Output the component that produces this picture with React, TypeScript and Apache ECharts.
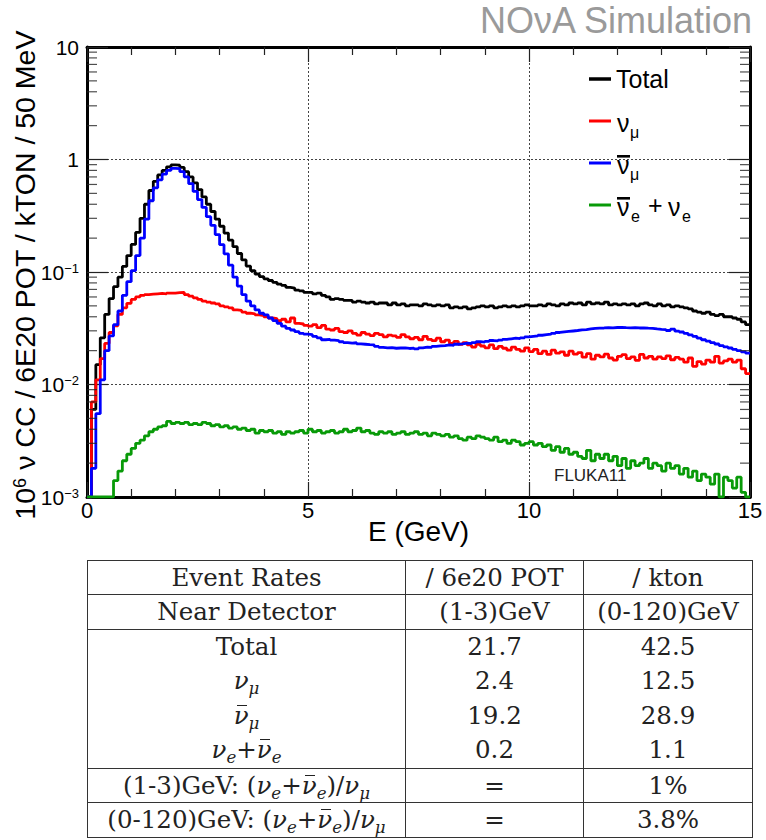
import React, { useEffect, useRef } from "react";
import * as echarts from "echarts";

// ---------------- data ----------------
const BIN_WIDTH = 0.1; // GeV (lower bin edges 0.0 ... 14.9)
const E_MIN = 0;
const E_MAX = 15;
const Y_MIN = 0.001;
const Y_MAX = 10;

const totalValues = [
  0.001, 0.006, 0.015, 0.026, 0.042, 0.058, 0.074, 0.09, 0.112, 0.14,
  0.176, 0.225, 0.3, 0.4, 0.53, 0.64, 0.73, 0.8, 0.86, 0.895,
  0.89, 0.85, 0.78, 0.7, 0.62, 0.54, 0.465, 0.4, 0.345, 0.295,
  0.255, 0.222, 0.192, 0.168, 0.146, 0.128, 0.113, 0.103, 0.096, 0.091,
  0.087, 0.084, 0.081, 0.078, 0.076, 0.073, 0.072, 0.069, 0.068, 0.066,
  0.066, 0.064, 0.065, 0.062, 0.06, 0.057, 0.058, 0.057, 0.056, 0.056,
  0.054, 0.055, 0.054, 0.053, 0.054, 0.052, 0.053, 0.053, 0.051, 0.053,
  0.051, 0.052, 0.05, 0.051, 0.051, 0.05, 0.052, 0.051, 0.05, 0.051,
  0.05, 0.051, 0.048, 0.049, 0.048, 0.049, 0.047, 0.048, 0.049, 0.05,
  0.049, 0.05, 0.048, 0.049, 0.05, 0.049, 0.05, 0.049, 0.05, 0.051,
  0.05, 0.05, 0.051, 0.05, 0.052, 0.051, 0.05, 0.052, 0.051, 0.053,
  0.052, 0.053, 0.051, 0.054, 0.052, 0.053, 0.052, 0.054, 0.051, 0.052,
  0.051, 0.052, 0.051, 0.052, 0.05, 0.052, 0.053, 0.051, 0.05, 0.052,
  0.05, 0.051, 0.049, 0.05, 0.049, 0.048, 0.047, 0.045, 0.044, 0.043,
  0.044, 0.042, 0.041, 0.042, 0.04, 0.04, 0.039, 0.038, 0.036, 0.034,
];

const numuValues = [
  0.001, 0.007, 0.011, 0.017, 0.0232, 0.029, 0.0333, 0.042, 0.048, 0.0527,
  0.057, 0.06, 0.062, 0.063, 0.0635, 0.064, 0.0645, 0.064, 0.065, 0.065,
  0.0655, 0.066, 0.063, 0.061, 0.059, 0.057, 0.055, 0.054, 0.053, 0.052,
  0.05, 0.049, 0.048, 0.046, 0.0455, 0.044, 0.043, 0.0425, 0.0415, 0.041,
  0.04, 0.039, 0.0385, 0.037, 0.038, 0.036, 0.039, 0.035, 0.0345, 0.0335,
  0.033, 0.034, 0.032, 0.0335, 0.031, 0.0305, 0.0315, 0.0295, 0.029, 0.03,
  0.0285, 0.0275, 0.029, 0.028, 0.0272, 0.0285, 0.0278, 0.0265, 0.0275, 0.027,
  0.0262, 0.0278, 0.0265, 0.0255, 0.0262, 0.025, 0.0268, 0.0252, 0.0245, 0.0258,
  0.024, 0.0248, 0.0232, 0.0242, 0.0228, 0.0235, 0.0225, 0.0215, 0.0228, 0.022,
  0.0212, 0.0225, 0.0208, 0.0218, 0.021, 0.0202, 0.0215, 0.0205, 0.0198, 0.0212,
  0.0196, 0.0205, 0.0188, 0.0198, 0.0185, 0.0202, 0.019, 0.0195, 0.0182, 0.0198,
  0.0186, 0.0192, 0.0175, 0.0188, 0.0168, 0.0182, 0.0176, 0.0186, 0.0172, 0.0165,
  0.0178, 0.0184, 0.017, 0.0176, 0.0164, 0.0185, 0.0172, 0.0178, 0.0168, 0.0176,
  0.017, 0.018, 0.0166, 0.0174, 0.0168, 0.0158, 0.0172, 0.0145, 0.016, 0.0152,
  0.0165, 0.0158, 0.0178, 0.0155, 0.0162, 0.0168, 0.0158, 0.0165, 0.0138, 0.0125,
];

const numubarValues = [
  0.001, 0.0018, 0.0055, 0.011, 0.02, 0.027, 0.034, 0.045, 0.062, 0.082,
  0.103, 0.14, 0.2, 0.295, 0.43, 0.56, 0.66, 0.74, 0.8, 0.835,
  0.83, 0.78, 0.7, 0.61, 0.52, 0.44, 0.375, 0.31, 0.26, 0.215,
  0.175, 0.145, 0.115, 0.09, 0.075, 0.063, 0.055, 0.05, 0.046, 0.043,
  0.0415, 0.039, 0.037, 0.035, 0.033, 0.0315, 0.0305, 0.0295, 0.0285, 0.028,
  0.0277, 0.0268, 0.026, 0.025, 0.0252, 0.0248, 0.0245, 0.024, 0.0236, 0.0233,
  0.0235, 0.023, 0.0228, 0.0226, 0.0225, 0.0218, 0.0214, 0.0212, 0.0213, 0.021,
  0.0211, 0.0212, 0.0209, 0.0211, 0.0207, 0.0212, 0.0215, 0.0214, 0.0218, 0.022,
  0.0222, 0.0225, 0.0223, 0.0228, 0.023, 0.0233, 0.0231, 0.0236, 0.024, 0.0238,
  0.0242, 0.0246, 0.0244, 0.0248, 0.0252, 0.0255, 0.0258, 0.0256, 0.026, 0.0265,
  0.0268, 0.027, 0.0274, 0.0277, 0.028, 0.0285, 0.029, 0.0293, 0.0296, 0.0299,
  0.0302, 0.0306, 0.0308, 0.0312, 0.0315, 0.0317, 0.0318, 0.032, 0.0319, 0.0321,
  0.0322, 0.032, 0.0319, 0.032, 0.0318, 0.0319, 0.0317, 0.0316, 0.0312, 0.0309,
  0.0307, 0.0302, 0.031, 0.0298, 0.0293, 0.0285, 0.0276, 0.0268, 0.0258, 0.025,
  0.0243, 0.0236, 0.0229, 0.0222, 0.0216, 0.0211, 0.0205, 0.02, 0.0195, 0.019,
];

const nueValues = [
  0.001, 0.001, 0.001, 0.001, 0.001, 0.001, 0.0014, 0.0017, 0.0021, 0.0024,
  0.0027, 0.003, 0.0032, 0.0035, 0.0038, 0.004, 0.0042, 0.0043, 0.0047, 0.0045,
  0.0046, 0.0045, 0.0046, 0.0044, 0.0045, 0.0044, 0.0046, 0.0045, 0.0043, 0.0044,
  0.0042, 0.0043, 0.0041, 0.0042, 0.004, 0.0041, 0.0039, 0.004, 0.0037, 0.0039,
  0.0038, 0.0039, 0.0037, 0.0038, 0.0036, 0.0038, 0.0037, 0.0038, 0.0039, 0.0037,
  0.004, 0.0038, 0.0039, 0.0037, 0.0038, 0.0039, 0.0037, 0.0038, 0.004, 0.0038,
  0.0039, 0.0041, 0.0038, 0.0039, 0.0037, 0.0036, 0.0038, 0.0037, 0.0038, 0.0036,
  0.0037, 0.0038, 0.0036, 0.0037, 0.0038, 0.0036, 0.0037, 0.0035, 0.0037, 0.0036,
  0.0035, 0.0036, 0.0034, 0.0035, 0.0033, 0.0032, 0.0034, 0.0033, 0.0035, 0.0034,
  0.0033, 0.0032, 0.0034, 0.0031, 0.0032, 0.003, 0.0032, 0.0031, 0.0029, 0.003,
  0.0031, 0.0029, 0.003, 0.0028, 0.0029, 0.0026, 0.0028, 0.0025, 0.0027, 0.0024,
  0.0025, 0.0023, 0.0022, 0.0026, 0.0021, 0.0024, 0.0022, 0.0024, 0.0021, 0.0023,
  0.0019, 0.0022, 0.0018, 0.0021, 0.0019, 0.002, 0.0022, 0.0018, 0.002, 0.0019,
  0.0017, 0.002, 0.0018, 0.0019, 0.0016, 0.0018, 0.0015, 0.0017, 0.0014, 0.0016,
  0.0015, 0.0013, 0.0016, 0.001, 0.0015, 0.0014, 0.0012, 0.0015, 0.0011, 0.001,
];

const seriesNames = ["Total", "numu", "numubar", "nue"];
const seriesColors = ["#000000", "#ff0000", "#0000ff", "#089a08"];

// table data
const tableHead1 = ["Event Rates", "/ 6e20 POT", "/ kton"];
const tableHead2 = ["Near Detector", "(1-3)GeV", "(0-120)GeV"];
const ratePOT = ["21.7", "2.4", "19.2", "0.2"];
const rateKton = ["42.5", "12.5", "28.9", "1.1"];
const ratioPrefixes = ["(1-3)GeV: ", "(0-120)GeV: "];
const ratioValues = ["1%", "3.8%"];

const SANS = '"Liberation Sans", Arial, sans-serif';
const SERIF = '"DejaVu Serif", serif';

function toSteps(values: number[]) {
  const pts: number[][] = values.map((v, i) => [Math.round(i * BIN_WIDTH * 10) / 10, v]);
  pts.push([E_MAX, values[values.length - 1]]);
  return pts;
}

const minorLogTicks: number[] = [];
for (let d = -3; d < 1; d++) {
  for (let m = 2; m <= 9; m++) minorLogTicks.push(m * Math.pow(10, d));
}

function buildOption() {
  const allValues = [totalValues, numuValues, numubarValues, nueValues];
  const lineSeries = allValues.map((vals, k) => ({
    type: "line",
    name: seriesNames[k],
    data: toSteps(vals),
    step: "end",
    showSymbol: false,
    symbol: "none",
    silent: true,
    clip: true,
    z: 2 + k,
    lineStyle: { color: seriesColors[k], width: 2.8 },
    itemStyle: { color: seriesColors[k] },
  }));
  const tickSeries = [
    {
      type: "scatter",
      data: minorLogTicks.map((v) => [E_MIN, v]),
      symbol: "rect",
      symbolSize: [10, 1.2],
      symbolOffset: [5, 0],
      itemStyle: { color: "#222" },
      silent: true,
      clip: false,
      z: 10,
    },
    {
      type: "scatter",
      data: minorLogTicks.map((v) => [E_MAX, v]),
      symbol: "rect",
      symbolSize: [10, 1.2],
      symbolOffset: [-5, 0],
      itemStyle: { color: "#222" },
      silent: true,
      clip: false,
      z: 10,
    },
  ];

  const frameLine = { show: true, onZero: false, lineStyle: { color: "#000", width: 3 } };
  const gridDots = { show: true, lineStyle: { color: "#444", width: 1, type: [2, 2] } };

  const legendItems: any[] = [];
  const legendY = [79, 121, 163, 205];
  legendY.forEach((y, k) => {
    legendItems.push({
      type: "line",
      shape: { x1: 589, y1: y, x2: 611, y2: y },
      style: { stroke: seriesColors[k], lineWidth: k === 0 ? 3.5 : 3 },
    });
  });
  const txt = (text: string, x: number, y: number, size: number, extra: any = {}) => ({
    type: "text",
    x,
    y,
    style: {
      text,
      fontSize: size,
      fontFamily: SANS,
      fill: "#000",
      align: "left",
      verticalAlign: "middle",
      ...extra,
    },
  });
  legendItems.push(txt("Total", 616, 79, 25));
  legendItems.push(txt("ν", 617, 123, 25));
  legendItems.push(txt("μ", 630, 132, 16));
  legendItems.push(txt("ν", 617, 165, 25));
  legendItems.push({ type: "rect", shape: { x: 617, y: 155, width: 13, height: 2.6 }, style: { fill: "#000" } });
  legendItems.push(txt("μ", 630, 174, 16));
  legendItems.push(txt("ν", 617, 207, 25));
  legendItems.push({ type: "rect", shape: { x: 617, y: 197, width: 13, height: 2.6 }, style: { fill: "#000" } });
  legendItems.push(txt("e", 631, 216, 16));
  legendItems.push(txt("+", 648, 205, 25));
  legendItems.push(txt("ν", 668, 207, 25));
  legendItems.push(txt("e", 682, 216, 16));

  return {
    animation: false,
    backgroundColor: "#ffffff",
    grid: { left: 87, right: 16, top: 47, bottom: 63, containLabel: false, outerBoundsMode: "none" },
    xAxis: [
      {
        type: "value",
        min: E_MIN,
        max: E_MAX,
        interval: 5,
        position: "bottom",
        axisLine: frameLine,
        axisTick: { show: true, inside: true, length: 15, lineStyle: { color: "#222", width: 1.2 } },
        minorTick: { show: true, splitNumber: 5, length: 8, lineStyle: { color: "#222", width: 1.2 } },
        axisLabel: { show: true, fontSize: 22, fontFamily: SANS, color: "#000", margin: 2 },
        splitLine: gridDots,
        name: "E (GeV)",
        nameLocation: "middle",
        nameGap: 20,
        nameMoveOverlap: false,
        nameTextStyle: { fontSize: 28, fontFamily: SANS, color: "#000", verticalAlign: "top" },
      },
      {
        type: "value",
        min: E_MIN,
        max: E_MAX,
        interval: 5,
        position: "top",
        axisLine: frameLine,
        axisTick: { show: true, inside: true, length: 15, lineStyle: { color: "#222", width: 1.2 } },
        minorTick: { show: true, splitNumber: 5, length: 8, lineStyle: { color: "#222", width: 1.2 } },
        axisLabel: { show: false },
        splitLine: { show: false },
      },
    ],
    yAxis: [
      {
        type: "log",
        logBase: 10,
        min: Y_MIN,
        max: Y_MAX,
        position: "left",
        axisLine: frameLine,
        axisTick: { show: true, inside: true, length: 21, lineStyle: { color: "#222", width: 1.2 } },
        axisLabel: {
          show: true,
          margin: 8,
          fontSize: 21,
          fontFamily: SANS,
          color: "#000",
          formatter: (v: number) => {
            const e = Math.round(Math.log10(v));
            if (e === 0) return "1";
            if (e === 1) return "10";
            return `{b|10}{s|\u2212${-e}}`;
          },
          rich: {
            b: { fontSize: 21, fontFamily: SANS, color: "#000" },
            s: { fontSize: 13, fontFamily: SANS, color: "#000", verticalAlign: "top" },
          },
        },
        splitLine: gridDots,
      },
      {
        type: "log",
        logBase: 10,
        min: Y_MIN,
        max: Y_MAX,
        position: "right",
        axisLine: frameLine,
        axisTick: { show: true, inside: true, length: 21, lineStyle: { color: "#222", width: 1.2 } },
        axisLabel: { show: false },
        splitLine: { show: false },
      },
    ],
    series: [...lineSeries, ...tickSeries],
    graphic: [
      {
        type: "text",
        x: 752,
        y: 20,
        style: { text: "NOνA Simulation", fontSize: 36, fontFamily: SANS, fill: "#9a9a9a", align: "right", verticalAlign: "middle" },
      },
      {
        type: "text",
        x: 25,
        y: 275,
        rotation: Math.PI / 2,
        style: {
          text: "{a|10}{s|6}{a| ν CC / 6E20 POT / kTON / 50 MeV}",
          align: "center",
          verticalAlign: "middle",
          fill: "#000",
          rich: {
            a: { fontSize: 28.5, fontFamily: SANS, fill: "#000", color: "#000" },
            s: { fontSize: 18, fontFamily: SANS, fill: "#000", color: "#000", verticalAlign: "top" },
          },
        },
      },
      txt("FLUKA11", 554, 475, 17, { fill: "#222" }),
      ...legendItems,
    ],
  };
}

const cellBase: React.CSSProperties = {
  borderLeft: "1.5px solid #333",
  borderRight: "1.5px solid #333",
  textAlign: "center",
  padding: 0,
  whiteSpace: "nowrap",
};
const topB: React.CSSProperties = { borderTop: "1.5px solid #333" };
const botB: React.CSSProperties = { borderBottom: "1.5px solid #333" };

const Sub = ({ children }: { children: React.ReactNode }) => (
  <span style={{ fontSize: "0.68em", verticalAlign: "-0.28em", lineHeight: 0, fontStyle: "italic" }}>{children}</span>
);
const Nu = ({ bar }: { bar?: boolean }) => (
  <span style={{ fontStyle: "italic", position: "relative" }}>
    ν
    {bar ? (
      <span
        style={{
          position: "absolute",
          left: "0.14em",
          top: "0.18em",
          width: "0.42em",
          borderTop: "1.3px solid #222",
        }}
      />
    ) : null}
  </span>
);

function RatesTable() {
  const labels = [
    <span>Total</span>,
    <span>
      <Nu />
      <Sub>μ</Sub>
    </span>,
    <span>
      <Nu bar />
      <Sub>μ</Sub>
    </span>,
    <span>
      <Nu />
      <Sub>e</Sub>+<Nu bar />
      <Sub>e</Sub>
    </span>,
  ];
  const ratioExpr = (
    <span>
      (<Nu />
      <Sub>e</Sub>+<Nu bar />
      <Sub>e</Sub>)/<Nu />
      <Sub>μ</Sub>
    </span>
  );
  const h = (px: number): React.CSSProperties => ({ height: px, lineHeight: px + "px" });
  return (
    <table
      style={{
        position: "absolute",
        left: 87,
        top: 560,
        width: 665,
        borderCollapse: "collapse",
        tableLayout: "fixed",
        fontFamily: SERIF,
        fontSize: 24.5,
        color: "#222",
      }}
    >
      <colgroup>
        <col style={{ width: 318 }} />
        <col style={{ width: 178 }} />
        <col style={{ width: 169 }} />
      </colgroup>
      <tbody>
        <tr>
          {tableHead1.map((t, i) => (
            <td key={i} style={{ ...cellBase, ...topB, ...botB, ...h(33) }}>{t}</td>
          ))}
        </tr>
        <tr>
          {tableHead2.map((t, i) => (
            <td key={i} style={{ ...cellBase, ...botB, ...h(33.5) }}>{t}</td>
          ))}
        </tr>
        {labels.map((lab, r) => (
          <tr key={"r" + r}>
            <td style={{ ...cellBase, ...(r === 3 ? botB : {}), ...h(34.5) }}>{lab}</td>
            <td style={{ ...cellBase, ...(r === 3 ? botB : {}), ...h(34.5) }}>{ratePOT[r]}</td>
            <td style={{ ...cellBase, ...(r === 3 ? botB : {}), ...h(34.5) }}>{rateKton[r]}</td>
          </tr>
        ))}
        {ratioPrefixes.map((p, r) => (
          <tr key={"q" + r}>
            <td style={{ ...cellBase, ...botB, ...h(33.5) }}>
              {p}
              {ratioExpr}
            </td>
            <td style={{ ...cellBase, ...botB, ...h(33.5) }}>=</td>
            <td style={{ ...cellBase, ...botB, ...h(33.5) }}>{ratioValues[r]}</td>
          </tr>
        ))}
      </tbody>
    </table>
  );
}

export default function App() {
  const ref = useRef<HTMLDivElement>(null);
  useEffect(() => {
    if (!ref.current) return;
    const chart = echarts.init(ref.current, null, { renderer: "svg" });
    chart.setOption(buildOption() as any);
    return () => chart.dispose();
  }, []);
  return (
    <div style={{ position: "absolute", left: 0, top: 0, width: 766, height: 840, background: "#fff" }}>
      <div ref={ref} style={{ position: "absolute", left: 0, top: 0, width: 766, height: 560 }} />
      <RatesTable />
    </div>
  );
}
